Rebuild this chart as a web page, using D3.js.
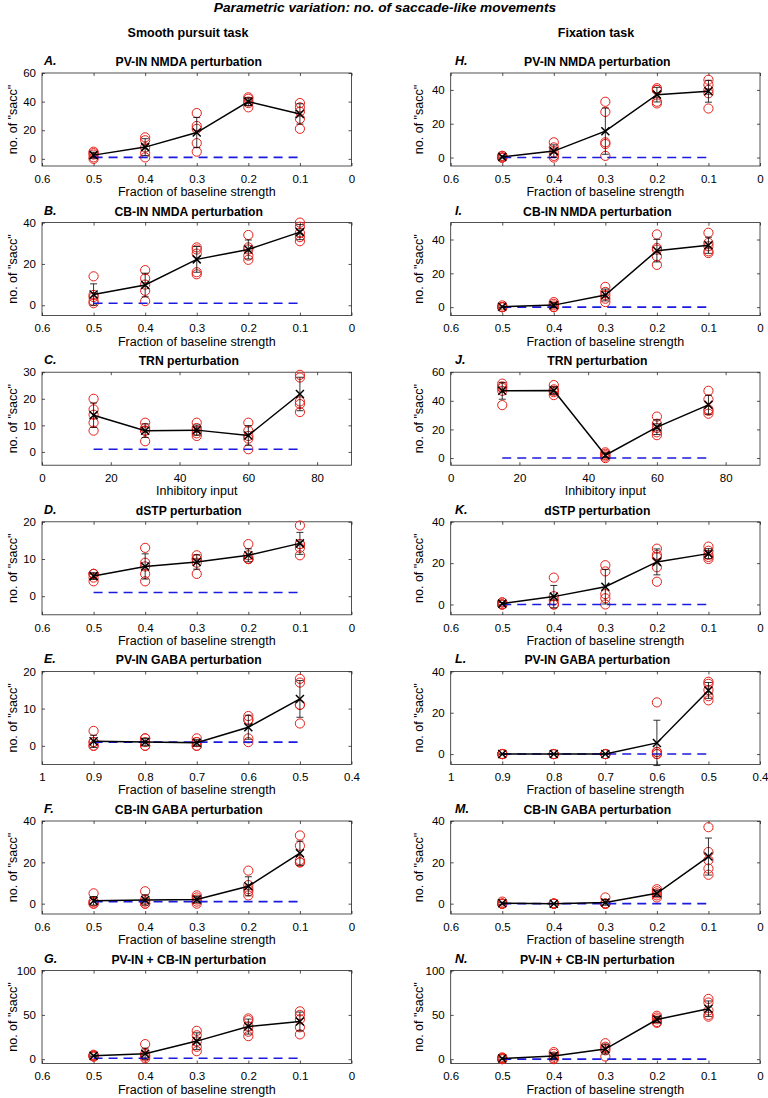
<!DOCTYPE html>
<html><head><meta charset="utf-8">
<script src="https://cdn.jsdelivr.net/npm/d3@7/dist/d3.min.js"></script>
<style>
html,body{margin:0;padding:0;background:#fff;}
svg text{font-family:"Liberation Sans",Arial,sans-serif;fill:#000;}
</style></head>
<body>
<svg id="chart" width="768" height="1098"></svg>
<script>
// ---- x values & ticks ----
const fracX = [0.5, 0.4, 0.3, 0.2, 0.1];
const gabaX = [0.9, 0.8, 0.7, 0.6, 0.5];
const inhibX = [15, 30, 45, 60, 75];
const fracTicks = [0.6, 0.5, 0.4, 0.3, 0.2, 0.1, 0];
const gabaTicks = [1, 0.9, 0.8, 0.7, 0.6, 0.5, 0.4];
const inhibTicks = [0, 20, 40, 60, 80];
const fracLabel = "Fraction of baseline strength";
const inhibLabel = "Inhibitory input";

// ---- panel titles ----
const letters = ["A.","B.","C.","D.","E.","F.","G.","H.","I.","J.","K.","L.","M.","N."];
const titles = ["PV-IN NMDA perturbation","CB-IN NMDA perturbation","TRN perturbation","dSTP perturbation",
  "PV-IN GABA perturbation","CB-IN GABA perturbation","PV-IN + CB-IN perturbation"];

// ---- y ticks per row ----
const yTicksLeft  = [[0,20,40,60],[0,20,40],[0,10,20,30],[0,10,20],[0,10,20],[0,20,40],[0,50,100]];
const yTopLeft    = [60,40,30,20,20,40,100];
const yTicksRight = [[0,20,40],[0,20,40],[0,20,40,60],[0,20,40],[0,20,40],[0,20,40],[0,50,100]];
const yTopRight   = [50,50,60,40,40,40,100];

// ---- trial counts (5 runs per condition), smooth pursuit task ----
const trialsA = [[5,4,3,1,0],[15,13,8,4,1],[32,23,21,11,5],[43,42,40,39,36],[39,36,33,28,21]];
const trialsB = [[14,5,4,2,1],[17,13,10,7,2],[28,27,25,16,15],[34,28,27,24,22],[40,38,35,33,31]];
const trialsC = [[20,16,14,11,8],[11,9,8,8,4],[11,9,8,7,6],[11,8,6,5,1],[29,28,19,18,15]];
const trialsD = [[6,6,6,5,4],[13,9,8,6,4],[11,10,10,9,6],[14,11,10,10,10],[19,14,14,13,11]];
const trialsE = [[4,1,1,0,0],[2,2,1,0,0],[2,1,1,0,0],[8,7,7,2,1],[18,17,11,11,6]];
const trialsF = [[5,1,1,0,0],[6,2,1,0,0],[4,3,2,1,0],[16,9,7,6,4],[33,28,21,20,20]];
const trialsG = [[5,4,4,3,3],[17,6,4,3,1],[32,27,20,14,9],[46,44,37,31,26],[54,50,45,36,28]];
// ---- fixation task ----
const trialsH = [[1,1,0,0,0],[9,6,3,1,0],[33,27,9,8,1],[41,40,40,33,32],[46,43,40,38,29]];
const trialsI = [[1,0,0,0,0],[3,2,1,0,0],[12,9,7,5,3],[43,35,34,30,25],[44,38,36,33,32]];
const trialsJ = [[52,50,49,47,37],[51,48,47,46,44],[4,3,2,1,0],[29,24,21,18,16],[47,41,34,33,31]];
const trialsK = [[1,1,0,0,0],[13,4,2,0,0],[19,16,5,3,0],[27,24,23,18,11],[28,26,24,23,22]];
const trialsL = [[0,0,0,0,0],[0,0,0,0,0],[0,0,0,0,0],[25,1,1,0,0],[35,34,31,28,26]];
const trialsM = [[1,0,0,0,0],[0,0,0,0,0],[3,0,0,0,0],[7,6,5,4,3],[37,25,21,17,14]];
const trialsN = [[2,1,1,0,0],[8,6,3,1,0],[18,14,12,10,3],[49,47,45,42,41],[68,64,55,50,48]];

const baselineLeft = 1;   // control level, smooth pursuit
const baselineRight = 0;  // control level, fixation

const trialsLeft = [trialsA,trialsB,trialsC,trialsD,trialsE,trialsF,trialsG];
const trialsRight = [trialsH,trialsI,trialsJ,trialsK,trialsL,trialsM,trialsN];
const xKind = ["frac","frac","inhib","frac","gaba","frac","frac"];

// ---- layout ----
const svg = d3.select("#chart");
const cols = [{x0:42, x1:351.5, ylab:13, letterX:44}, {x0:450.7, x1:760, ylab:419, letterX:455}];
const rowTop = i => 73 + i*149.6;
const axH = 93;
const yMin = -5;

svg.append("text").attr("x",385).attr("y",12).attr("text-anchor","middle")
  .style("font-size","13.7px").style("font-weight","bold").style("font-style","italic")
  .text("Parametric variation: no. of saccade-like movements");
svg.append("text").attr("x",188).attr("y",37).attr("text-anchor","middle")
  .style("font-size","12.5px").style("font-weight","bold").text("Smooth pursuit task");
svg.append("text").attr("x",596).attr("y",37).attr("text-anchor","middle")
  .style("font-size","12.5px").style("font-weight","bold").text("Fixation task");

function drawPanel(c, r) {
  const col = cols[c];
  const top = rowTop(r), bot = top + axH;
  const kind = xKind[r];
  const xs = kind==="frac" ? fracX : kind==="gaba" ? gabaX : inhibX;
  const xt = kind==="frac" ? fracTicks : kind==="gaba" ? gabaTicks : inhibTicks;
  const xdom = kind==="frac" ? [0.6,0] : kind==="gaba" ? [1,0.4] : [0,90];
  const x = d3.scaleLinear().domain(xdom).range([col.x0, col.x1]);
  const yTop = c===0 ? yTopLeft[r] : yTopRight[r];
  const yt = c===0 ? yTicksLeft[r] : yTicksRight[r];
  const y = d3.scaleLinear().domain([yMin, yTop]).range([bot, top]);
  const trials = c===0 ? trialsLeft[r] : trialsRight[r];
  const base = c===0 ? baselineLeft : baselineRight;
  const g = svg.append("g");

  // axes box
  g.append("rect").attr("x",col.x0).attr("y",top).attr("width",col.x1-col.x0).attr("height",axH)
    .attr("fill","#fff").attr("stroke","#262626").attr("stroke-width",0.8);

  // ticks (inside, all four sides)
  const tl = 3;
  const axB = d3.axisBottom(x).tickValues(xt).tickSize(-tl).tickFormat(d=>String(d)).tickPadding(7);
  const gb = g.append("g").attr("transform",`translate(0,${bot})`).call(axB);
  const axT = d3.axisTop(x).tickValues(xt).tickSize(-tl).tickFormat("");
  const gt = g.append("g").attr("transform",`translate(0,${top})`).call(axT);
  const axL = d3.axisLeft(y).tickValues(yt).tickSize(-tl).tickFormat(d=>String(d)).tickPadding(6);
  const gl = g.append("g").attr("transform",`translate(${col.x0},0)`).call(axL);
  const axR = d3.axisRight(y).tickValues(yt).tickSize(-tl).tickFormat("");
  const gr = g.append("g").attr("transform",`translate(${col.x1},0)`).call(axR);
  [gb,gt,gl,gr].forEach(a=>{
    a.select(".domain").remove();
    a.selectAll(".tick line").attr("stroke","#262626").attr("stroke-width",0.8);
    a.selectAll(".tick text").style("font-size","11.5px").attr("fill","#000")
      .style("font-family","'Liberation Sans',Arial,sans-serif");
  });
  gb.selectAll(".tick text").attr("dy","0.85em");

  // labels
  g.append("text").attr("x",(col.x0+col.x1)/2).attr("y",bot+30).attr("text-anchor","middle")
    .style("font-size","12.5px").text(kind==="inhib" ? inhibLabel : fracLabel);
  g.append("text").attr("transform",`translate(${col.ylab},${(top+bot)/2}) rotate(-90)`)
    .attr("text-anchor","middle").attr("dy","0.35em").style("font-size","12.5px").text('no. of "sacc"');
  g.append("text").attr("x",(col.x0+col.x1)/2 - 8).attr("y",top-7).attr("text-anchor","middle")
    .style("font-size","12.2px").style("font-weight","bold").text(titles[r]);
  g.append("text").attr("x",col.letterX).attr("y",top-8)
    .style("font-size","12.5px").style("font-weight","bold").style("font-style","italic")
    .text(letters[c*7+r]);

  // trial circles
  trials.forEach((arr,i)=>{
    g.selectAll(null).data(arr).enter().append("circle")
      .attr("cx",x(xs[i])).attr("cy",d=>y(d)).attr("r",4.6)
      .attr("fill","none").attr("stroke","#e8201a").attr("stroke-width",1);
  });

  // baseline dashed
  g.append("line").attr("x1",x(xs[0])).attr("x2",x(xs[xs.length-1]))
    .attr("y1",y(base)).attr("y2",y(base))
    .attr("stroke","#1a1ae0").attr("stroke-width",1.6).attr("stroke-dasharray","9,6");

  // mean +- sd
  const stats = trials.map((arr,i)=>({x:xs[i], m:d3.mean(arr), s:d3.deviation(arr)||0}));
  g.append("path").datum(stats)
    .attr("d", d3.line().x(d=>x(d.x)).y(d=>y(d.m)))
    .attr("fill","none").attr("stroke","#000").attr("stroke-width",1.5);
  stats.forEach(d=>{
    const cx = x(d.x), y1 = y(d.m - d.s), y2 = y(d.m + d.s), cw = 3.5;
    g.append("line").attr("x1",cx).attr("x2",cx).attr("y1",y1).attr("y2",y2).attr("stroke","#000").attr("stroke-width",0.8);
    g.append("line").attr("x1",cx-cw).attr("x2",cx+cw).attr("y1",y1).attr("y2",y1).attr("stroke","#000").attr("stroke-width",0.8);
    g.append("line").attr("x1",cx-cw).attr("x2",cx+cw).attr("y1",y2).attr("y2",y2).attr("stroke","#000").attr("stroke-width",0.8);
    const cy = y(d.m), s = 4;
    g.append("path").attr("d",`M${cx-s},${cy-s}L${cx+s},${cy+s}M${cx-s},${cy+s}L${cx+s},${cy-s}`)
      .attr("stroke","#000").attr("stroke-width",1.5);
  });
}

for (let c=0;c<2;c++) for (let r=0;r<7;r++) drawPanel(c,r);
</script>
</body></html>
